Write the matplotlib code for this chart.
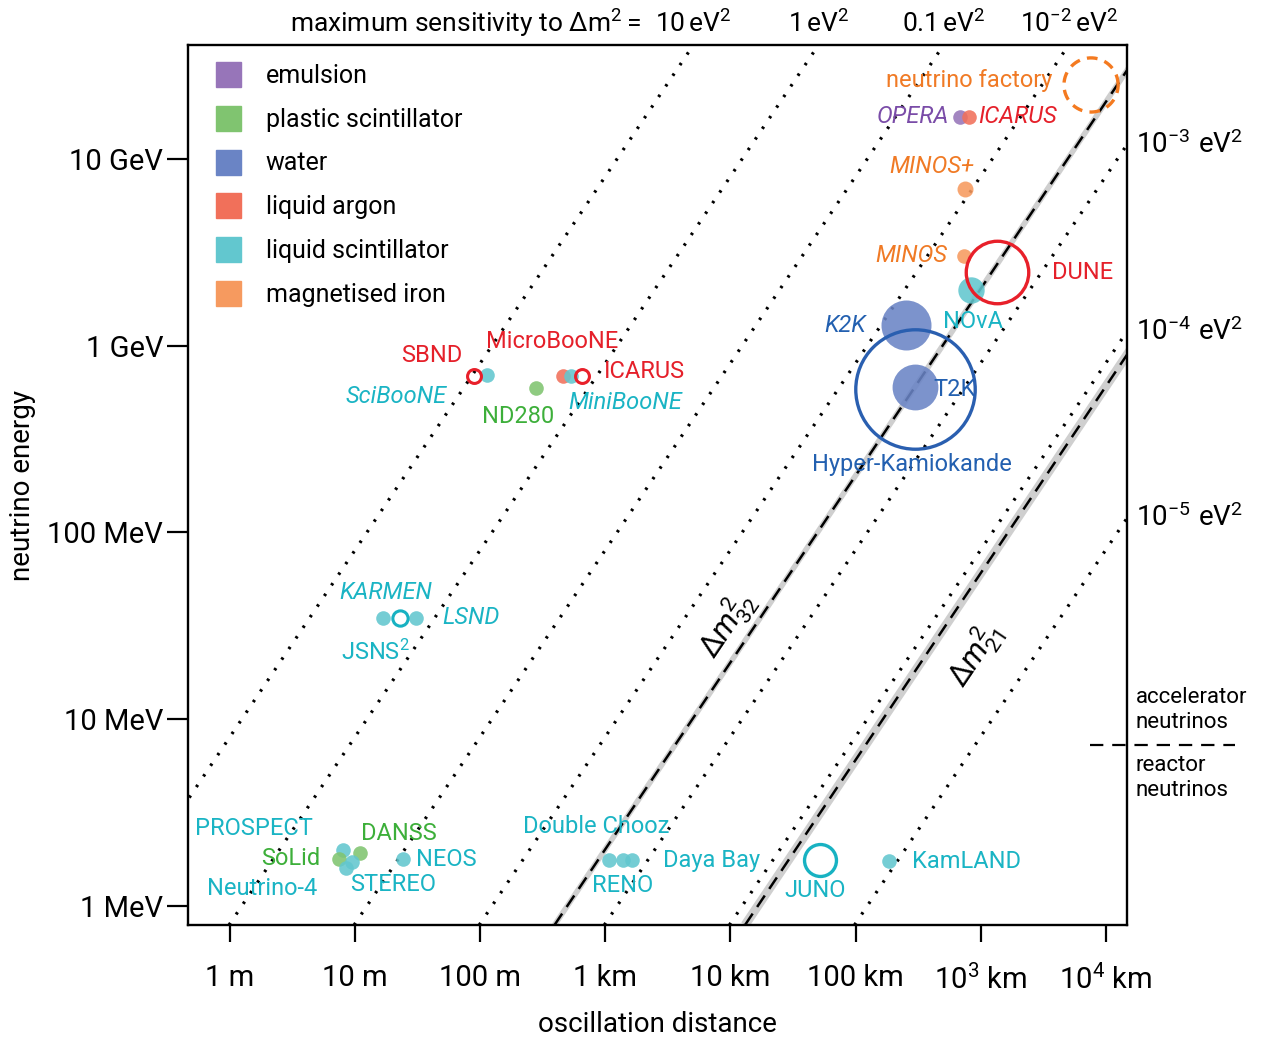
import matplotlib
matplotlib.use("Agg")
import matplotlib.pyplot as plt
import matplotlib.transforms as mtransforms
from matplotlib.lines import Line2D
import numpy as np

plt.rcParams["font.family"] = ["Roboto", "DejaVu Sans"]
plt.rcParams["mathtext.fontset"] = "custom"
plt.rcParams["mathtext.rm"] = "Roboto"
plt.rcParams["mathtext.it"] = "Roboto:italic"
plt.rcParams["mathtext.bf"] = "Roboto:bold"

# ------------------------------------------------------------
# data (distance in m, energy in MeV)
# ------------------------------------------------------------
materials = ["emulsion", "plastic scintillator", "water",
             "liquid argon", "liquid scintillator", "magnetised iron"]
material_colors = ["#9775b9", "#80c470", "#6a84c5",
                   "#f1705a", "#62c7cf", "#f69a5f"]

# filled markers
exp_names = ["OPERA", "ICARUS_CNGS", "MINOS+", "MINOS", "NOvA", "K2K", "T2K",
             "SciBooNE", "ND280", "MicroBooNE", "MiniBooNE",
             "KARMEN", "LSND",
             "PROSPECT", "DANSS", "SoLid", "STEREO", "Neutrino-4", "NEOS",
             "Double Chooz", "RENO", "Daya Bay", "KamLAND"]
exp_L = [690e3, 803e3, 746e3, 736e3, 830e3, 253e3, 299e3,
         113, 278, 461, 529,
         16.8, 30.7,
         8.0, 10.9, 7.4, 9.4, 8.5, 24.1,
         1071, 1372, 1634, 184e3]
exp_E = [16800, 16800, 6930, 3025, 1990, 1290, 601,
         694, 592, 689, 689,
         35, 35,
         2.0, 1.92, 1.79, 1.72, 1.60, 1.78,
         1.76, 1.76, 1.76, 1.74]
exp_mat = ["emulsion", "liquid argon", "magnetised iron", "magnetised iron",
           "liquid scintillator", "water", "water",
           "liquid scintillator", "plastic scintillator", "liquid argon",
           "liquid scintillator",
           "liquid scintillator", "liquid scintillator",
           "liquid scintillator", "plastic scintillator", "plastic scintillator",
           "liquid scintillator", "liquid scintillator", "liquid scintillator",
           "liquid scintillator", "liquid scintillator", "liquid scintillator",
           "liquid scintillator"]

# open markers (future / planned)
open_names = ["SBND", "ICARUS_SBN", "JSNS2", "DUNE", "Hyper-Kamiokande",
              "neutrino factory", "JUNO"]
open_L = [89, 648, 22.9, 1.35e6, 299e3, 7.63e6, 52e3]
open_E = [689, 689, 35, 2480, 590, 24900, 1.76]
open_colors = ["#e8202a", "#e8202a", "#18b2c2", "#e8202a", "#2a5fb0",
               "#f47a20", "#18b2c2"]

# sensitivity lines: L/E at oscillation maximum, m/MeV = 1.24 / dm2
dm2_lines = [10, 1, 0.1, 1e-2, 1e-3, 1e-4, 1e-5]
dm2_top_labels = [r"$10\,\mathrm{eV}^2$", r"$1\,\mathrm{eV}^2$",
                  r"$0.1\,\mathrm{eV}^2$", r"$10^{-2}\,\mathrm{eV}^2$"]
dm2_right_labels = [r"$10^{-3}\ \mathrm{eV}^2$", r"$10^{-4}\ \mathrm{eV}^2$",
                    r"$10^{-5}\ \mathrm{eV}^2$"]
dm2_32 = 2.5e-3
dm2_21 = 7.5e-5

x_ticks = [1, 10, 100, 1e3, 1e4, 1e5, 1e6, 1e7]
x_ticklabels = ["1 m", "10 m", "100 m", "1 km", "10 km", "100 km",
                r"$10^3$ km", r"$10^4$ km"]
y_ticks = [1, 10, 100, 1e3, 1e4]
y_ticklabels = ["1 MeV", "10 MeV", "100 MeV", "1 GeV", "10 GeV"]

XLIM = (0.4616, 1.479e7)
YLIM = (0.791, 40770)

# ------------------------------------------------------------
# styles
# ------------------------------------------------------------
CYAN = "#1ab4c4"
RED = "#e5202a"
ORANGE = "#f07a25"
PURPLE = "#7a4ca8"
GREEN = "#3daf3a"
BLUE = "#2360b0"

marker_size = {"NOvA": 19, "K2K": 36, "T2K": 33, "MINOS+": 11.5}
open_size = {"SBND": 10, "ICARUS_SBN": 10, "JSNS2": 11, "DUNE": 45,
             "Hyper-Kamiokande": 86, "neutrino factory": 39, "JUNO": 23}

# text, colour, italic, dx, dy (points), ha
labels = {
    "OPERA": ("OPERA", PURPLE, True, -8, 0, "right"),
    "ICARUS_CNGS": ("ICARUS", RED, True, 6.5, 0, "left"),
    "MINOS+": ("MINOS+", ORANGE, True, -24, 16, "center"),
    "MINOS": ("MINOS", ORANGE, True, -12, 0, "right"),
    "NOvA": ("NOvA", CYAN, False, -20, -23, "left"),
    "K2K": ("K2K", BLUE, True, -29, 0, "right"),
    "T2K": ("T2K", BLUE, False, 13, -2, "left"),
    "SciBooNE": ("SciBooNE", CYAN, True, -29, -15, "right"),
    "ND280": ("ND280", GREEN, False, -13, -20, "center"),
    "MicroBooNE": ("MicroBooNE", RED, False, -8, 25, "center"),
    "MiniBooNE": ("MiniBooNE", CYAN, True, -2, -19, "left"),
    "KARMEN": ("KARMEN", CYAN, True, 2, 18, "center"),
    "LSND": ("LSND", CYAN, True, 19, 0, "left"),
    "PROSPECT": ("PROSPECT", CYAN, False, -22, 15, "right"),
    "DANSS": ("DANSS", GREEN, False, 28, 14, "center"),
    "SoLid": ("SoLid", GREEN, False, -13, 0, "right"),
    "STEREO": ("STEREO", CYAN, False, -1, -16, "left"),
    "Neutrino-4": ("Neutrino-4", CYAN, False, -21, -15, "right"),
    "NEOS": ("NEOS", CYAN, False, 9.5, 0, "left"),
    "Double Chooz": ("Double Chooz", CYAN, False, -62, 24, "left"),
    "RENO": ("RENO", CYAN, False, 0, -18, "center"),
    "Daya Bay": ("Daya Bay", CYAN, False, 22, 0, "left"),
    "KamLAND": ("KamLAND", CYAN, False, 16.5, 0, "left"),
    "SBND": ("SBND", RED, False, -8, 15, "right"),
    "ICARUS_SBN": ("ICARUS", RED, False, 16, 3, "left"),
    "JSNS2": (r"JSNS$^2$", CYAN, False, -18, -25, "center"),
    "DUNE": ("DUNE", RED, False, 40, 0, "left"),
    "Hyper-Kamiokande": ("Hyper-Kamiokande", BLUE, False, -2, -55, "center"),
    "neutrino factory": ("neutrino factory", ORANGE, False, -28, 3.5, "right"),
    "JUNO": ("JUNO", CYAN, False, -3.5, -21.5, "center"),
}

LABEL_FS = 17


def main():

    fig = plt.figure(figsize=(12.68, 10.41), dpi=100)
    ax = fig.add_axes([0.1483, 0.1114, 0.7405, 0.8454])
    ax.set_xscale("log")
    ax.set_yscale("log")
    ax.set_xlim(*XLIM)
    ax.set_ylim(*YLIM)

    E_line = np.array(YLIM)

    # dotted sensitivity lines
    for dm2 in dm2_lines:
        ax.plot(1.24 / dm2 * E_line, E_line, color="black", lw=2.3,
                ls=(0, (0.8, 3.2)), zorder=1)

    # measured mass splittings
    for dm2, band in [(dm2_32, 4.0), (dm2_21, 6.5)]:
        ax.plot(1.24 / dm2 * E_line, E_line, color="#cfcfcf", lw=band,
                solid_capstyle="butt", zorder=1.5)
        ax.plot(1.24 / dm2 * E_line, E_line, color="black", lw=1.8,
                ls=(0, (5.5, 3.2)), zorder=1.6)

    ax.text(9390, 32, r"$\Delta m^2_{32}$", fontsize=22, rotation=56,
            ha="center", va="center", rotation_mode="anchor")
    ax.text(9.0e5, 22, r"$\Delta m^2_{21}$", fontsize=22, rotation=56,
            ha="center", va="center", rotation_mode="anchor")

    # filled experiments
    col_of = dict(zip(materials, material_colors))
    for name, L, E, mat in zip(exp_names, exp_L, exp_E, exp_mat):
        ms = marker_size.get(name, 10.5)
        ax.plot(L, E, "o", ms=ms, mfc=col_of[mat], mec="none",
                alpha=0.88, zorder=3)

    # open experiments
    for name, L, E, c in zip(open_names, open_L, open_E, open_colors):
        ms = open_size[name]
        lw = 2.4 if ms > 20 else 2.2
        if name == "neutrino factory":
            # dashed circle drawn around the data point in display space
            t = np.linspace(0, 2 * np.pi, 200)
            disp = ax.transData.transform((L, E))
            r = ms / 2 * fig.dpi / 72
            pts = np.column_stack([disp[0] + r * np.cos(t),
                                   disp[1] + r * np.sin(t)])
            dat = ax.transData.inverted().transform(pts)
            ax.plot(dat[:, 0], dat[:, 1], color=c, lw=2.4,
                    ls=(0, (3.2, 2.2)), zorder=4)
        else:
            ax.plot(L, E, "o", ms=ms, mfc="none", mec=c, mew=lw, zorder=4)

    # labels
    all_pos = dict(zip(exp_names, zip(exp_L, exp_E)))
    all_pos.update(dict(zip(open_names, zip(open_L, open_E))))
    for key, (txt, c, it, dx, dy, ha) in labels.items():
        ax.annotate(txt, all_pos[key], xytext=(dx, dy),
                    textcoords="offset points", ha=ha, va="center",
                    color=c, fontsize=LABEL_FS,
                    style="italic" if it else "normal", zorder=5)

    # axes styling
    for sp in ax.spines.values():
        sp.set_linewidth(1.7)
    ax.set_xticks(x_ticks)
    ax.set_xticklabels(x_ticklabels)
    ax.set_yticks(y_ticks)
    ax.set_yticklabels(y_ticklabels)
    ax.minorticks_off()
    ax.tick_params(axis="x", direction="out", length=12, width=1.6,
                   labelsize=21, pad=16)
    ax.tick_params(axis="y", direction="out", length=15, width=1.6,
                   labelsize=21, pad=3)
    ax.set_xlabel("oscillation distance", fontsize=20, labelpad=12)
    ax.set_ylabel("neutrino energy", fontsize=20, labelpad=8)

    # top labels for dotted lines
    blend_top = mtransforms.blended_transform_factory(ax.transData,
                                                      ax.transAxes)
    for dm2, txt in zip(dm2_lines[:4], dm2_top_labels):
        ax.text(1.24 / dm2 * YLIM[1], 1.025, txt, transform=blend_top,
                ha="center", va="center", fontsize=19)
    ax.text(0.482, 1.025, r"maximum sensitivity to $\Delta\mathrm{m}^2 =$",
            transform=ax.transAxes, ha="right", va="center", fontsize=19)

    blend_right = mtransforms.blended_transform_factory(ax.transAxes,
                                                        ax.transData)
    for dm2, txt in zip(dm2_lines[4:], dm2_right_labels):
        ax.text(1.01, XLIM[1] / (1.24 / dm2), txt, transform=blend_right,
                ha="left", va="center", fontsize=20)

    # accelerator / reactor divider
    ax.plot([0.961, 1.115], [7.3, 7.3], transform=blend_right, color="black",
            lw=1.6, ls=(0, (6, 4)), clip_on=False)
    ax.text(1.009, 11.2, "accelerator\nneutrinos", transform=blend_right,
            ha="left", va="center", fontsize=16, linespacing=1.2)
    ax.text(1.009, 4.85, "reactor\nneutrinos", transform=blend_right,
            ha="left", va="center", fontsize=16, linespacing=1.2)

    # legend
    handles = [Line2D([], [], marker="s", ls="none", ms=18, mfc=c, mec=c)
               for c in material_colors]
    ax.legend(handles, materials, loc="upper left",
              bbox_to_anchor=(0.016, 0.99), frameon=False, fontsize=18,
              handlelength=1.2, handletextpad=0.9, labelspacing=0.79,
              borderaxespad=0.0)

    fig.savefig("out.png", dpi=100)
    plt.close(fig)


if __name__ == "__main__":
    main()
